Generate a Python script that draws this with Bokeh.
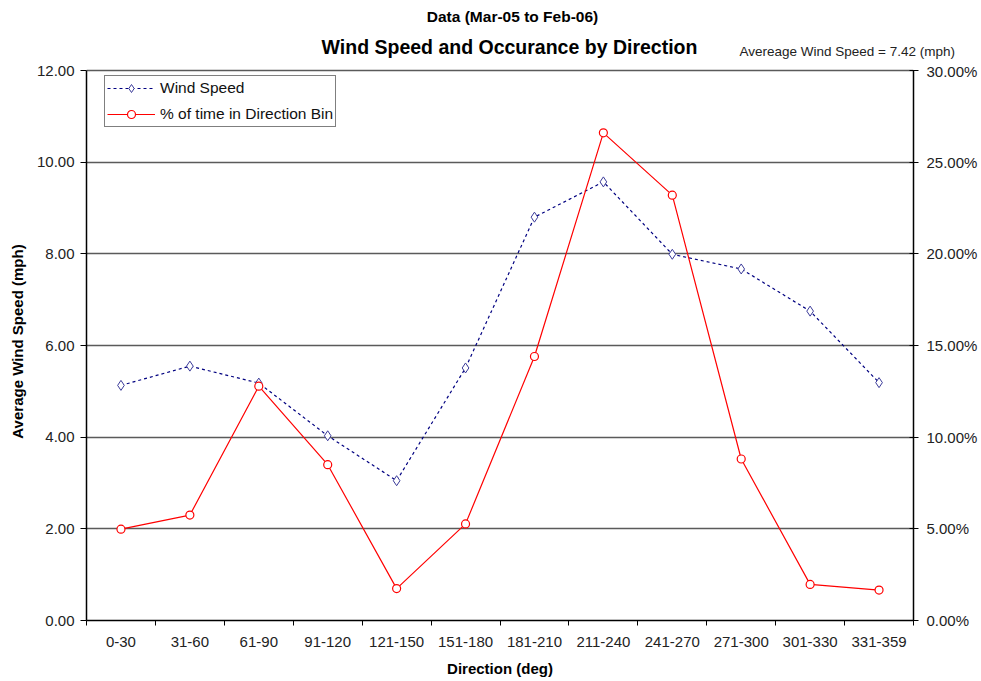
from bokeh.plotting import figure
from bokeh.models import (Range1d, LinearAxis, FixedTicker, NumeralTickFormatter,
                          Label, Legend, LegendItem)
from bokeh.embed import file_html
from bokeh.resources import INLINE

# Wind data by direction bin (Mar-05 to Feb-06)
directions = ["0-30", "31-60", "61-90", "91-120", "121-150", "151-180",
              "181-210", "211-240", "241-270", "271-300", "301-330", "331-359"]
wind_speed = [5.13, 5.55, 5.18, 4.03, 3.05, 5.51, 8.80, 9.57, 7.99, 7.67, 6.75, 5.19]
pct_time = [4.98, 5.75, 12.78, 8.50, 1.74, 5.27, 14.40, 26.60, 23.20, 8.81, 1.97, 1.66]
avg_speed = 7.42

FONT = "Liberation Sans"
W = 981
HEAD_H = 62     # strip that holds the titles
MAIN_H = 681 - HEAD_H
BOTTOM = 61     # bottom axis panel
GAP12 = 8       # px between top of the plot frame and the 12.00 line

# bin centres on a numeric axis so ticks can sit on the bin edges
xs = [i + 0.5 for i in range(len(directions))]
pct_frac = [v / 100.0 for v in pct_time]

# ---- title strip, a separate root so its frame spans the whole width ----
head = figure(width=W, height=HEAD_H, output_backend="svg", toolbar_location=None,
              x_range=Range1d(0, W), y_range=Range1d(0, HEAD_H),
              x_axis_location=None, y_axis_location=None, min_border=0)
head.outline_line_color = None
head.grid.grid_line_color = None
head.add_layout(Label(x=512, y=HEAD_H - 16, text="Data (Mar-05 to Feb-06)",
                      text_font=FONT, text_font_size="15.5px", text_font_style="bold",
                      text_color="black", text_align="center", text_baseline="middle"))
head.add_layout(Label(x=509, y=HEAD_H - 46, text="Wind Speed and Occurance by Direction",
                      text_font=FONT, text_font_size="19.5px", text_font_style="bold",
                      text_color="black", text_align="center", text_baseline="middle"))
head.add_layout(Label(x=739, y=HEAD_H - 51,
                      text="Avereage Wind Speed = %.2f (mph)" % avg_speed,
                      text_font=FONT, text_font_size="13.5px", text_color="#222222",
                      text_align="left", text_baseline="middle"))

# ---- main chart ----
frame_h = MAIN_H - BOTTOM
y_top = 12.0 * frame_h / (frame_h - GAP12)

p = figure(width=W, height=MAIN_H, output_backend="svg", toolbar_location=None,
           x_range=Range1d(0, len(directions)), y_range=Range1d(0, y_top),
           min_border_left=86, min_border_right=68, min_border_top=0,
           min_border_bottom=BOTTOM)
p.outline_line_color = None
p.extra_y_ranges = {"pct": Range1d(0, y_top * 0.025)}

p.xgrid.grid_line_color = None
p.ygrid.grid_line_color = "#5a5a5a"
p.ygrid.grid_line_width = 1.3
p.ygrid.ticker = FixedTicker(ticks=[0, 2, 4, 6, 8, 10, 12])

# x axis: labels at bin centres, ticks on bin edges
xa = p.xaxis[0]
xa.ticker = FixedTicker(ticks=xs, minor_ticks=list(range(len(directions) + 1)))
xa.major_label_overrides = {x: d for x, d in zip(xs, directions)}
xa.major_tick_out = 0
xa.major_tick_in = 0
xa.minor_tick_out = 5
xa.minor_tick_in = 0
xa.minor_tick_line_color = "black"
xa.axis_line_color = "black"
xa.axis_line_width = 1.5
xa.major_label_text_font = FONT
xa.major_label_text_font_size = "15px"
xa.major_label_text_color = "#222222"
xa.major_label_standoff = 11
xa.axis_label = "Direction (deg)"
xa.axis_label_text_font = FONT
xa.axis_label_text_font_size = "15px"
xa.axis_label_text_font_style = "bold"
xa.axis_label_text_color = "black"
xa.axis_label_standoff = 10

# left axis
ya = p.yaxis[0]
ya.bounds = (0, 12)
ya.ticker = FixedTicker(ticks=[0, 2, 4, 6, 8, 10, 12])
ya.formatter = NumeralTickFormatter(format="0.00")
ya.minor_tick_line_color = None
ya.major_tick_out = 6
ya.major_tick_in = 0
ya.major_tick_line_color = "black"
ya.axis_line_color = "black"
ya.axis_line_width = 1.5
ya.major_label_text_font = FONT
ya.major_label_text_font_size = "15px"
ya.major_label_text_color = "#222222"
ya.major_label_standoff = 6
ya.axis_label = "Average Wind Speed (mph)"
ya.axis_label_text_font = FONT
ya.axis_label_text_font_size = "15px"
ya.axis_label_text_font_style = "bold"
ya.axis_label_text_color = "black"
ya.axis_label_standoff = 8

# right axis for percent of time
ra = LinearAxis(y_range_name="pct", bounds=(0, 0.30),
                ticker=FixedTicker(ticks=[0, 0.05, 0.10, 0.15, 0.20, 0.25, 0.30]),
                formatter=NumeralTickFormatter(format="0.00%"))
ra.minor_tick_line_color = None
ra.major_tick_out = 5
ra.major_tick_in = 4
ra.major_tick_line_color = "black"
ra.axis_line_color = "black"
ra.axis_line_width = 1.5
ra.major_label_text_font = FONT
ra.major_label_text_font_size = "15px"
ra.major_label_text_color = "#222222"
ra.major_label_standoff = 8
p.add_layout(ra, "right")

# series
ws_line = p.line(xs, wind_speed, line_color="#000080", line_width=1.2, line_dash="3 3")
ws_pts = p.scatter(xs, wind_speed, marker="diamond", size=10, line_color="#3b3b9a",
                   fill_color="white", line_width=1)
pc_line = p.line(xs, pct_frac, y_range_name="pct", line_color="#ff0000", line_width=1.2)
pc_pts = p.scatter(xs, pct_frac, y_range_name="pct", marker="circle", size=8,
                   line_color="#ff0000", fill_color="white", line_width=1.2)

legend = Legend(items=[LegendItem(label="Wind Speed", renderers=[ws_line, ws_pts]),
                       LegendItem(label="% of time in Direction Bin", renderers=[pc_line, pc_pts])],
                location=(18, frame_h - 15 - 50), margin=0)
legend.label_text_font = FONT
legend.label_text_font_size = "15.5px"
legend.label_text_color = "#111111"
legend.glyph_width = 48
legend.glyph_height = 20
legend.label_height = 20
legend.label_standoff = 5
legend.spacing = 6
legend.padding = 2
legend.border_line_color = "black"
legend.border_line_width = 1
legend.background_fill_alpha = 1
p.add_layout(legend, "center")

open("out.html", "w").write(file_html([head, p], INLINE))
